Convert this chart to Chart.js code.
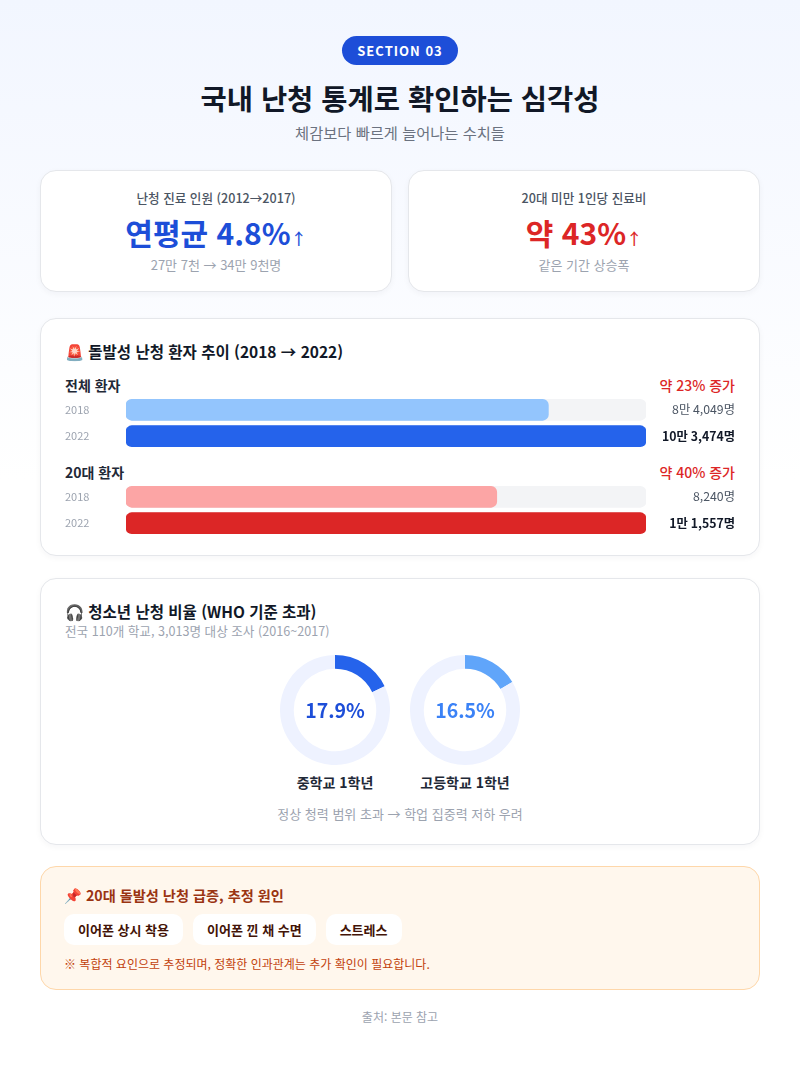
<!DOCTYPE html>
<html lang="ko">
<head>
<meta charset="utf-8">
<title>국내 난청 통계</title>
<script src="https://cdn.jsdelivr.net/npm/chart.js"></script>
<style>
  * { box-sizing: border-box; }
  html { background: #fff; }
  body {
    margin: 0;
    width: 800px;
    font-family: "Noto Sans CJK KR", "Noto Sans", sans-serif;
    background: linear-gradient(180deg, #f2f6ff 0px, #ffffff 480px) no-repeat;
    color: #111827;
  }
  .wrap { padding: 36px 40px 40px; }
  .pill {
    display: block; width: 116px; height: 29px; margin: 0 auto;
    background: #1d4ed8; color: #fff; border-radius: 15px;
    font-size: 13px; font-weight: 700; letter-spacing: 1px;
    line-height: 29px; text-align: center;
  }
  h1 { margin: 16px 0 0; font-size: 28.5px; line-height: 34px; text-align: center; font-weight: 700; }
  .sub { margin: 7px 0 0; font-size: 15.3px; line-height: 20px; text-align: center; color: #6b7280; }
  .card {
    background: #fff; border: 1px solid #e5e7eb; border-radius: 16px;
    box-shadow: 0 2px 6px rgba(15, 23, 42, 0.04);
  }
  .stats { display: flex; gap: 16px; margin-top: 28px; }
  .stat { flex: 1; height: 122px; padding-top: 17px; text-align: center; }
  .stat .lab { font-size: 12.6px; line-height: 20px; color: #4b5563; font-weight: 500; }
  .stat .big { margin-top: 4px; font-size: 30px; line-height: 40px; font-weight: 700; }
  .stat .big small { font-size: 16px; font-weight: 500; }
  .stat .note { margin-top: -2px; font-size: 13px; line-height: 18px; color: #9ca3af; }
  .blue { color: #1d4ed8; }
  .red { color: #dc2626; }
  .ttl { font-size: 15.5px; line-height: 22px; font-weight: 700; color: #111827; }
  .bars { margin-top: 26px; height: 238px; padding: 21px 24px 0; }
  .ghead { display: flex; justify-content: space-between; font-size: 14px; line-height: 20px; font-weight: 700; color: #1f2937; }
  .ghead .inc { color: #dc2626; font-weight: 500; }
  .g1 { margin-top: 13px; }
  .g2 { margin-top: 14px; }
  .barbox { position: relative; height: 66px; margin-top: -5px; margin-bottom: -8px; }
  .donuts { margin-top: 22px; height: 267px; padding: 21px 24px 0; }
  .dsub { font-size: 12.6px; line-height: 18px; color: #9ca3af; }
  .drow { display: flex; justify-content: center; gap: 20px; margin-top: 15px; }
  .ditem { width: 110px; text-align: center; }
  .dbox { position: relative; width: 110px; height: 110px; }
  .dval { position: absolute; left: 0; right: 0; top: 0; line-height: 110px; font-size: 19.5px; font-weight: 700; }
  .dlab { margin-top: 7px; font-size: 14px; line-height: 20px; font-weight: 700; color: #1f2937; white-space: nowrap; margin-left: -20px; margin-right: -20px; }
  .dnote { margin-top: 13px; text-align: center; font-size: 13px; line-height: 18px; color: #9ca3af; }
  .cause {
    margin-top: 21px; height: 124px; padding: 18px 23px 0;
    background: #fff7ed; border: 1px solid #fed7aa; border-radius: 16px;
  }
  .cause .ttl { color: #9a3412; font-size: 14.2px; line-height: 20px; }
  .chips { display: flex; gap: 10px; margin-top: 9px; }
  .chip { background: #fff; border-radius: 10px; height: 31px; line-height: 31px; padding: 0 14px; font-size: 13px; font-weight: 700; color: #431407; }
  .cnote { margin-top: 11px; font-size: 12px; line-height: 16px; color: #c2410c; }
  .foot { margin-top: 19px; text-align: center; font-size: 12px; line-height: 16px; color: #9ca3af; }
</style>
</head>
<body>
<div class="wrap">
  <div class="pill">SECTION 03</div>
  <h1>국내 난청 통계로 확인하는 심각성</h1>
  <div class="sub">체감보다 빠르게 늘어나는 수치들</div>

  <div class="stats">
    <div class="card stat">
      <div class="lab">난청 진료 인원 (2012→2017)</div>
      <div class="big blue">연평균 4.8%<small>↑</small></div>
      <div class="note">27만 7천 → 34만 9천명</div>
    </div>
    <div class="card stat">
      <div class="lab">20대 미만 1인당 진료비</div>
      <div class="big red">약 43%<small>↑</small></div>
      <div class="note">같은 기간 상승폭</div>
    </div>
  </div>

  <div class="card bars">
    <div class="ttl">🚨 돌발성 난청 환자 추이 (2018 → 2022)</div>
    <div class="ghead g1"><span>전체 환자</span><span class="inc" id="inc1"></span></div>
    <div class="barbox"><canvas id="allChart"></canvas></div>
    <div class="ghead g2"><span>20대 환자</span><span class="inc" id="inc2"></span></div>
    <div class="barbox"><canvas id="twentyChart"></canvas></div>
  </div>

  <div class="card donuts">
    <div class="ttl">🎧 청소년 난청 비율 (WHO 기준 초과)</div>
    <div class="dsub">전국 110개 학교, 3,013명 대상 조사 (2016~2017)</div>
    <div class="drow" id="drow"></div>
    <div class="dnote">정상 청력 범위 초과 → 학업 집중력 저하 우려</div>
  </div>

  <div class="cause">
    <div class="ttl">📌 20대 돌발성 난청 급증, 추정 원인</div>
    <div class="chips">
      <div class="chip">이어폰 상시 착용</div>
      <div class="chip">이어폰 낀 채 수면</div>
      <div class="chip">스트레스</div>
    </div>
    <div class="cnote">※ 복합적 요인으로 추정되며, 정확한 인과관계는 추가 확인이 필요합니다.</div>
  </div>

  <div class="foot">출처: 본문 참고</div>
</div>

<script>
  // data
  const years = ['2018', '2022'];
  const allPatients = [84049, 103474];
  const twentiesPatients = [8240, 11557];
  const donutLabels = ['중학교 1학년', '고등학교 1학년'];
  const donutValues = [17.9, 16.5];

  const FONT = '"Noto Sans CJK KR", "Noto Sans", sans-serif';

  // 84049 -> "8만 4,049명"
  function korNum(v) {
    const man = Math.floor(v / 10000);
    const rest = (v % 10000).toLocaleString('en-US');
    return (man ? man + '만 ' : '') + rest + '명';
  }

  const valueLabels = {
    id: 'valueLabels',
    afterDatasetsDraw(chart) {
      const ctx = chart.ctx;
      const meta = chart.getDatasetMeta(0);
      ctx.save();
      ctx.textAlign = 'right';
      ctx.textBaseline = 'middle';
      meta.data.forEach((bar, i) => {
        const last = i === meta.data.length - 1;
        ctx.font = (last ? '700 ' : '400 ') + '12.3px ' + FONT;
        ctx.fillStyle = last ? '#111827' : '#4b5563';
        ctx.fillText(korNum(chart.data.datasets[0].data[i]), chart.width, bar.y);
      });
      ctx.restore();
    }
  };

  function barChart(id, values, colors) {
    const max = Math.max(...values);
    return new Chart(document.getElementById(id), {
      type: 'bar',
      data: {
        labels: years,
        datasets: [
          { data: values, backgroundColor: colors, borderRadius: 6, borderSkipped: false, barThickness: 21, grouped: false },
          { data: values.map(() => max), backgroundColor: '#f3f4f6', borderRadius: 6, borderSkipped: false, barThickness: 21, grouped: false }
        ]
      },
      options: {
        indexAxis: 'y',
        responsive: true,
        maintainAspectRatio: false,
        animation: false,
        layout: { padding: { right: 89, top: 0, bottom: 0, left: 0 } },
        plugins: { legend: { display: false }, tooltip: { enabled: false } },
        scales: {
          x: { min: 0, max: max, display: false },
          y: {
            grid: { display: false }, border: { display: false },
            ticks: { color: '#9ca3af', font: { family: FONT, size: 11 }, crossAlign: 'far', padding: 0 },
            afterFit(scale) { scale.width = 61; }
          }
        }
      },
      plugins: [valueLabels]
    });
  }

  function pctText(values) {
    return '약 ' + Math.round((values[1] / values[0] - 1) * 100) + '% 증가';
  }

  document.getElementById('inc1').textContent = pctText(allPatients);
  document.getElementById('inc2').textContent = pctText(twentiesPatients);
  barChart('allChart', allPatients, ['#93c5fd', '#2563eb']);
  barChart('twentyChart', twentiesPatients, ['#fca5a5', '#dc2626']);

  const arcColors = ['#2563eb', '#60a5fa'];
  const textColors = ['#1d4ed8', '#3b82f6'];
  const drow = document.getElementById('drow');
  donutLabels.forEach((label, i) => {
    const item = document.createElement('div');
    item.className = 'ditem';
    item.innerHTML = '<div class="dbox"><canvas></canvas><div class="dval" style="color:' + textColors[i] + '">' +
      donutValues[i] + '%</div></div><div class="dlab">' + label + '</div>';
    drow.appendChild(item);
    new Chart(item.querySelector('canvas'), {
      type: 'doughnut',
      data: {
        labels: [label, '기타'],
        datasets: [{
          data: [donutValues[i], 100 - donutValues[i]],
          backgroundColor: [arcColors[i], '#eef2ff'],
          borderWidth: 0
        }]
      },
      options: {
        responsive: true,
        maintainAspectRatio: false,
        animation: false,
        cutout: '75%',
        plugins: { legend: { display: false }, tooltip: { enabled: false } }
      }
    });
  });
</script>
</body>
</html>
